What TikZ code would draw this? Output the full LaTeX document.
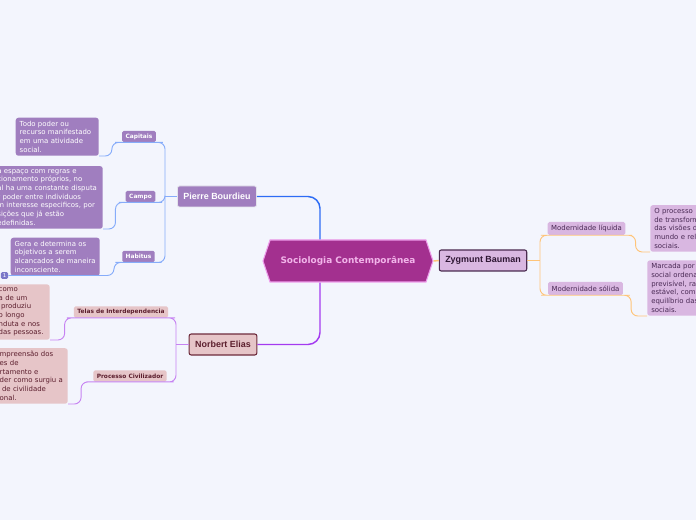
\documentclass[tikz,border=0pt]{standalone}
\usepackage{fontspec}
\setmainfont{DejaVu Sans}
\newfontfamily\headfont{Liberation Sans}
\usepackage{tikz}
\usetikzlibrary{shapes.symbols}

\hyphenpenalty=10000
\exhyphenpenalty=10000

\definecolor{bgpage}{HTML}{F3F5FD}
\definecolor{centralfill}{HTML}{A3308F}
\definecolor{centralline}{HTML}{EE9CEB}
\definecolor{centraltext}{HTML}{F2B5EA}
\definecolor{bourdieufill}{HTML}{A07EBF}
\definecolor{bourdieuline}{HTML}{E4E4EC}
\definecolor{eliasfill}{HTML}{E6C5C8}
\definecolor{eliasline}{HTML}{6E2B3C}
\definecolor{eliastext}{HTML}{5C1F2E}
\definecolor{baumanfill}{HTML}{D9B7E1}
\definecolor{baumanline}{HTML}{4B2B50}
\definecolor{baumantext}{HTML}{2E1633}
\definecolor{baumansub}{HTML}{4A2A55}
\definecolor{bluemain}{HTML}{2D6CF5}
\definecolor{bluesub}{HTML}{86ACFA}
\definecolor{violetmain}{HTML}{A43AF0}
\definecolor{violetsub}{HTML}{C683F2}
\definecolor{orangeline}{HTML}{FFC478}
\definecolor{badgefill}{HTML}{7B78C8}

\tikzset{
    topic/.style={rounded corners=1.5pt, minimum height=15.75pt, inner xsep=4.5pt,
        font=\headfont\bfseries\fontsize{6.7}{8}\selectfont},
    subtopic/.style={rounded corners=1.2pt, minimum height=8.5pt, inner xsep=2.6pt, inner ysep=1pt,
        font=\bfseries\fontsize{4.4}{5}\selectfont},
    note/.style={rounded corners=2pt, align=left, inner xsep=3pt, inner ysep=2.5pt,
        font=\fontsize{5.2}{6.5}\selectfont},
    mainlink/.style={line width=1.1pt, rounded corners=9pt},
    sublink/.style={line width=0.7pt, rounded corners=5pt},
}

\begin{document}
\begin{tikzpicture}[x=0.75pt,y=-0.75pt]

    % Page
    \fill[bgpage] (0,0) rectangle (696,520);
    \useasboundingbox (0,0) rectangle (696,520);

    % Centre
    \node[signal, signal to=west and east, signal pointer angle=143, fill=centralfill,
        draw=centralline, line width=0.8pt, minimum width=127.5pt, minimum height=31.5pt,
        text=centraltext, font=\bfseries\fontsize{6.7}{8}\selectfont] (soc) at (348,261)
        {Sociologia Contemporânea};

    % Main topics
    \node[topic, fill=bourdieufill, draw=bourdieuline, line width=0.6pt, text=white] (bourdieu) at (217,196.5) {Pierre Bourdieu};
    \node[topic, fill=eliasfill, draw=eliasline, line width=0.8pt, text=eliastext] (elias) at (223,344.5) {Norbert Elias};
    \node[topic, fill=baumanfill, draw=baumanline, line width=0.8pt, text=baumantext] (bauman) at (483,260.5) {Zygmunt Bauman};

    \draw[mainlink, bluemain] (bourdieu.east) -| ([xshift=-21pt]soc.north);
    \draw[mainlink, violetmain] ([xshift=-21pt]soc.south) |- (elias.east);
    \draw[mainlink, orangeline] (soc.east) -- (bauman.west);

    % Bourdieu
    \node[subtopic, fill=bourdieufill, text=white] (capitais) at (139,136.5) {Capitais};
    \node[subtopic, fill=bourdieufill, text=white] (campo) at (140.5,196.5) {Campo};
    \node[subtopic, fill=bourdieufill, text=white] (habitus) at (138.5,256.5) {Habitus};

    \node[note, fill=bourdieufill, text=white, text width=56.25pt, anchor=south east] (capitaistxt) at (99,156)
        {Todo poder ou\\recurso manifestado\\em uma atividade\\social.};
    \node[note, fill=bourdieufill, text=white, text width=76pt, anchor=south east] (campotxt) at (103,229)
        {a espaço com regras e\\cionamento próprios, no\\al ha uma constante disputa\\r poder entre individuos\\m interesse especificos, por\\sições que já estão\\edefinidas.};
    \node[note, fill=bourdieufill, text=white, text width=60.75pt, anchor=south east] (habitustxt) at (100,276)
        {Gera e determina os\\objetivos a serem\\alcancados de maneira\\inconsciente.};
    \node[fill=badgefill, rounded corners=1pt, text=white, inner sep=0.5pt, minimum width=5.5pt,
        minimum height=5pt, font=\fontsize{4}{4}\selectfont] (badge) at (4.5,275.5) {1};

    \coordinate (bjunc) at (165,196.5);
    \draw[sublink, bluesub] (bourdieu.west) -- (bjunc);
    \draw[sublink, bluesub] (bjunc) |- (capitais.south east) -- (capitais.south west) -- ++(-10,0) |- (capitaistxt.south east);
    \draw[sublink, bluesub] (bjunc) |- (campo.south east) -- (campo.south west) -- ++(-10,0) |- (campotxt.south east);
    \draw[sublink, bluesub] (bjunc) |- (habitus.south east) -- (habitus.south west) -- ++(-8,0) |- (badge.east);

    % Elias
    \node[subtopic, fill=eliasfill, text=eliastext] (telas) at (121,312) {Telas de Interdependencia};
    \node[subtopic, fill=eliasfill, text=eliastext] (processo) at (130,376) {Processo Civilizador};

    \node[note, fill=eliasfill, text=eliastext, text width=35.25pt, anchor=south east] (telastxt) at (50,340)
        {como\\a de um\\\ produziu\\o longo\\nduta e nos\\das pessoas.};
    \node[note, fill=eliasfill, text=eliastext, text width=48pt, anchor=south east] (processotxt) at (68,404)
        {mpreensão dos\\es de\\rtamento e\\der como surgiu a\\\ de civilidade\\onal.};

    \coordinate (ejunc) at (176,344.5);
    \draw[sublink, violetsub] (elias.west) -- (ejunc);
    \draw[sublink, violetsub] (ejunc) |- (telas.south east) -- (telas.south west) -- ++(-9,0) |- (telastxt.south east);
    \draw[sublink, violetsub] (ejunc) |- (processo.south east) -- (processo.south west) -- ++(-12,0) |- (processotxt.south east);

    % Bauman
    \node[subtopic, fill=baumanfill, text=baumansub, font=\fontsize{5.2}{6}\selectfont, minimum height=9.75pt] (liquida) at (586.5,228.5) {Modernidade líquida};
    \node[subtopic, fill=baumanfill, text=baumansub, font=\fontsize{5.2}{6}\selectfont, minimum height=9.75pt] (solida) at (585.5,288.5) {Modernidade sólida};

    \node[note, fill=baumanfill, text=baumansub, text width=70pt, anchor=south west] (liquidatxt) at (650,252)
        {O processo\\de transform\\das visões d\\mundo e rel\\sociais.};
    \node[note, fill=baumanfill, text=baumansub, text width=70pt, anchor=south west] (solidatxt) at (647,316)
        {Marcada por\\social ordena\\previsível, ra\\estável, com\\equilíbrio das\\sociais.};

    \coordinate (zjunc) at (540,260.5);
    \draw[sublink, orangeline] (bauman.east) -- (zjunc);
    \draw[sublink, orangeline] (zjunc) |- (liquida.south west) -- (liquida.south east) -- ++(10,0) |- (liquidatxt.south west);
    \draw[sublink, orangeline] (zjunc) |- (solida.south west) -- (solida.south east) -- ++(8,0) |- (solidatxt.south west);

\end{tikzpicture}
\end{document}
